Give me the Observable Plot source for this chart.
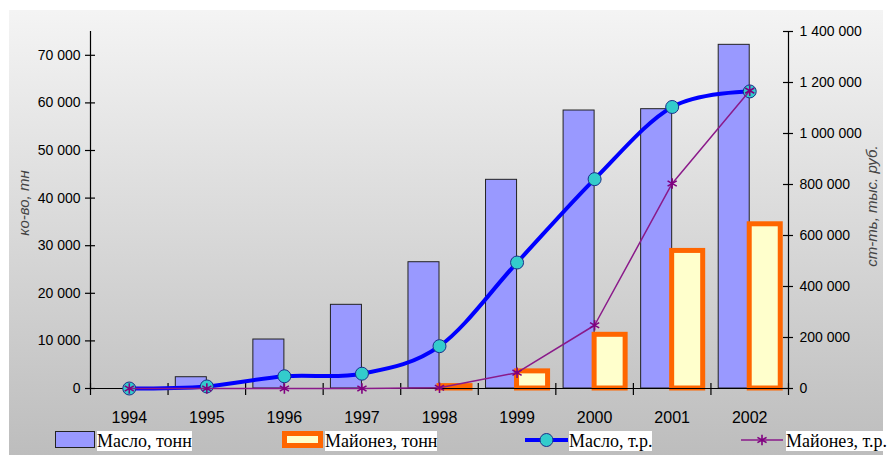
<!DOCTYPE html>
<html>
<head>
<meta charset="utf-8">
<script src="https://cdn.jsdelivr.net/npm/d3@7"></script>
<script src="https://cdn.jsdelivr.net/npm/@observablehq/plot@0.6"></script>
<style>
  body { margin: 0; background: #ffffff; }
  #wrap { position: relative; width: 887px; height: 455px; overflow: hidden; }
  #bg { position: absolute; left: 9px; top: 10px; width: 874px; height: 445px;
        background: linear-gradient(#f4f4f4, #bdbdbd); }
  #chart { position: absolute; left: 0; top: 0; }
  #legend { position: absolute; left: 0; top: 425px; width: 887px; height: 30px;
            font-family: "Liberation Serif", serif; font-size: 18px; color: #000; }
  .sw { position: absolute; top: 6px; height: 17px; box-sizing: border-box; }
  .lab { position: absolute; top: 6px; line-height: 20px; padding-top: 0; background: #fff; white-space: nowrap; }
  .ln { position: absolute; top: 5px; }
</style>
</head>
<body>
<div id="wrap">
  <div id="bg"></div>
  <div id="chart"></div>
  <div id="legend"></div>
</div>
<script>
// ---- data ----
const years = [1994, 1995, 1996, 1997, 1998, 1999, 2000, 2001, 2002];
const butterTonnes = [0, 2370, 10290, 17580, 26530, 43840, 58400, 58680, 72200];
const mayoTonnes = [0, 0, 0, 0, 500, 3600, 11280, 28900, 34500];
const butterRub = [0, 8000, 48000, 58000, 166000, 494000, 821000, 1104000, 1165000];
const mayoRub = [0, 0, 0, 0, 3000, 62000, 248000, 804000, 1168000];
const leftTicks = [0, 10000, 20000, 30000, 40000, 50000, 60000, 70000];
const rightTicks = [0, 200000, 400000, 600000, 800000, 1000000, 1200000, 1400000];
const seriesNames = ["Масло, тонн", "Майонез, тонн", "Масло, т.р.", "Майонез, т.р."];
const leftTitle = "ко-во, тн";
const rightTitle = "ст-ть, тыс. руб.";

const leftMax = 75000, rightMax = 1400000;
const k = rightMax / leftMax;

const rows = years.map((year, i) => ({
  year,
  butter: butterTonnes[i],
  mayo: mayoTonnes[i],
  butterRub: butterRub[i],
  mayoRub: mayoRub[i]
}));

const fmt = d3.formatLocale({decimal: ",", thousands: " ", grouping: [3], currency: ["", ""]}).format(",.0f");
const x0 = years[0] - 0.5, x1 = years[years.length - 1] + 0.5;
const bounds = d3.range(x0, x1 + 0.01, 1);
const half = 0.4;

const chart = Plot.plot({
  width: 887,
  height: 425,
  marginLeft: 90,
  marginRight: 99,
  marginTop: 31,
  marginBottom: 37,
  style: {background: "transparent", fontFamily: "Liberation Sans, Arial, sans-serif", overflow: "visible"},
  x: {type: "linear", domain: [x0, x1], axis: null},
  y: {domain: [0, leftMax], axis: null},
  marks: [
    // bars
    Plot.rectY(rows.filter(d => d.butter > 0), {
      x1: d => d.year - half, x2: d => d.year, y1: 0, y2: "butter",
      fill: "#9999ff", stroke: "#222", strokeWidth: 1
    }),
    Plot.rectY(rows.filter(d => d.mayo > 0), {
      x1: d => d.year, x2: d => d.year + half, y1: 0, y2: "mayo",
      fill: "#ffffcc", stroke: "#ff6600", strokeWidth: 5
    }),
    // axes lines
    Plot.ruleY([0], {stroke: "#000", strokeWidth: 1.2}),
    Plot.ruleX([x0], {y1: 0, y2: leftMax, stroke: "#000", strokeWidth: 1.2}),
    Plot.ruleX([x1], {y1: 0, y2: leftMax, stroke: "#000", strokeWidth: 1.2}),
    // x ticks at category boundaries
    Plot.ruleX(bounds, {x: d => d, y1: 0, y2: 0, insetTop: -5, insetBottom: -7, stroke: "#000", strokeWidth: 1.2}),
    // left ticks
    Plot.ruleY(leftTicks, {y: d => d, x1: x0, x2: x0, insetLeft: -5, insetRight: -5, stroke: "#000", strokeWidth: 1.2}),
    // right ticks
    Plot.ruleY(rightTicks, {y: d => d / k, x1: x1, x2: x1, insetLeft: -5, insetRight: -5, stroke: "#000", strokeWidth: 1.2}),
    // tick labels
    Plot.text(leftTicks, {x: x0, y: d => d, text: d => fmt(d), textAnchor: "end", dx: -10, fontSize: 14, fill: "#000", ariaLabel: "boxed"}),
    Plot.text(rightTicks, {x: x1, y: d => d / k, text: d => fmt(d), textAnchor: "start", dx: 11, fontSize: 14, fill: "#000", ariaLabel: "boxed"}),
    Plot.text(years, {x: d => d, y: 0, text: d => String(d), dy: 29, fontSize: 16, fill: "#000", ariaLabel: "boxed"}),
    // axis titles
    Plot.text([leftTitle], {frameAnchor: "left", text: d => d, rotate: -90, textAnchor: "middle", dx: -66, dy: -7, fontSize: 15, fontStyle: "italic", fill: "#444"}),
    Plot.text([rightTitle], {frameAnchor: "right", text: d => d, rotate: -90, textAnchor: "middle", dx: 84, dy: -4, fontSize: 15, fontStyle: "italic", fill: "#444"}),
    // butter value line
    Plot.line(rows, {x: "year", y: d => d.butterRub / k, curve: "cardinal", stroke: "#0000ff", strokeWidth: 4}),
    Plot.dot(rows, {x: "year", y: d => d.butterRub / k, r: 6.5, fill: "#33cccc", stroke: "#1a2f8a", strokeWidth: 1}),
    // mayo value line
    Plot.line(rows, {x: "year", y: d => d.mayoRub / k, stroke: "#8a1a8a", strokeWidth: 1.5}),
    Plot.dot(rows, {x: "year", y: d => d.mayoRub / k, symbol: "asterisk", r: 5, stroke: "#800080", strokeWidth: 1.6})
  ]
});
document.getElementById("chart").appendChild(chart);

// white boxes behind boxed labels
const ns = "http://www.w3.org/2000/svg";
chart.querySelectorAll('g[aria-label="boxed"]').forEach(g => {
  g.querySelectorAll("text").forEach(t => {
    const b = t.getBBox();
    const r = document.createElementNS(ns, "rect");
    r.setAttribute("x", b.x - 1);
    r.setAttribute("y", b.y);
    r.setAttribute("width", b.width + 2);
    r.setAttribute("height", b.height);
    r.setAttribute("fill", "#ffffff");
    r.setAttribute("stroke", "none");
    const tr = t.getAttribute("transform");
    if (tr) r.setAttribute("transform", tr);
    t.parentNode.insertBefore(r, t);
  });
});

// legend
const legend = document.getElementById("legend");
const items = [
  {type: "bar", fill: "#9999ff", border: "1px solid #222", sx: 55, sw: 40, tx: 97},
  {type: "bar", fill: "#ffffcc", border: "5px solid #ff6600", sx: 282, sw: 41, tx: 325},
  {type: "line", stroke: "#0000ff", sw: 4, marker: "circle", sx: 525, w: 43, tx: 569},
  {type: "line", stroke: "#8a1a8a", sw: 1.5, marker: "star", sx: 741, w: 42, tx: 786}
];
items.forEach((it, i) => {
  if (it.type === "bar") {
    const s = document.createElement("div");
    s.className = "sw";
    s.style.left = it.sx + "px";
    s.style.width = it.sw + "px";
    s.style.background = it.fill;
    s.style.border = it.border;
    legend.appendChild(s);
  } else {
    const svg = document.createElementNS(ns, "svg");
    svg.setAttribute("class", "ln");
    svg.setAttribute("width", it.w);
    svg.setAttribute("height", 20);
    svg.style.left = it.sx + "px";
    const l = document.createElementNS(ns, "line");
    l.setAttribute("x1", 0); l.setAttribute("x2", it.w);
    l.setAttribute("y1", 10); l.setAttribute("y2", 10);
    l.setAttribute("stroke", it.stroke); l.setAttribute("stroke-width", it.sw);
    svg.appendChild(l);
    const cx = it.w / 2;
    if (it.marker === "circle") {
      const c = document.createElementNS(ns, "circle");
      c.setAttribute("cx", cx); c.setAttribute("cy", 10); c.setAttribute("r", 6.5);
      c.setAttribute("fill", "#33cccc"); c.setAttribute("stroke", "#1a2f8a");
      svg.appendChild(c);
    } else {
      const p = document.createElementNS(ns, "path");
      p.setAttribute("d", d3.symbol(d3.symbolAsterisk, 78)());
      p.setAttribute("transform", `translate(${cx},10)`);
      p.setAttribute("stroke", "#800080"); p.setAttribute("stroke-width", 1.6); p.setAttribute("fill", "none");
      svg.appendChild(p);
    }
    legend.appendChild(svg);
  }
  const t = document.createElement("span");
  t.className = "lab";
  t.style.left = it.tx + "px";
  t.textContent = seriesNames[i];
  legend.appendChild(t);
});
</script>
</body>
</html>
